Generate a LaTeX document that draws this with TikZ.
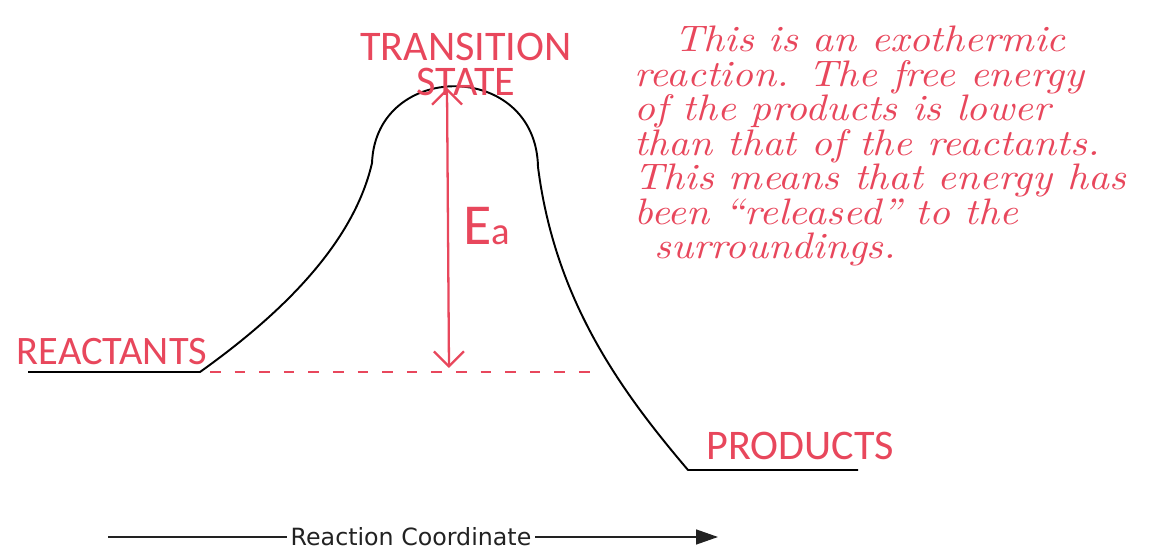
\documentclass[tikz,border=0pt]{standalone}
\usepackage{fontspec}
\setsansfont{DejaVu Sans}
\newfontfamily\handcaps{Carlito}
\newfontfamily\handnote{lmroman10-italic.otf}[FakeStretch=1.11]
\usetikzlibrary{arrows.meta,positioning}
\definecolor{inkred}{HTML}{E8475C}
\definecolor{axisgray}{HTML}{222222}

\begin{document}
\begin{tikzpicture}[
  x=0.02cm, y=-0.02cm,
  curve/.style={draw=black,line width=1.1pt,line join=round},
  lab/.style={text=inkred,font=\handcaps\fontsize{24}{24}\selectfont,inner sep=0pt},
  note/.style={text=inkred,font=\handnote\fontsize{21}{19.6}\selectfont,align=left,inner sep=0pt},
  gap/.style={draw=inkred,line width=0.9pt,dash pattern=on 6pt off 8pt},
  ea/.style={draw=inkred,line width=1.3pt,{Straight Barb[length=3mm]}-{Straight Barb[length=3mm]}},
  axis/.style={draw=axisgray,line width=0.8pt}
]
\useasboundingbox (0,0) rectangle (1150,560);

\coordinate (rL) at (28,372);
\coordinate (rR) at (200,372);
\coordinate (kL) at (372,163);
\coordinate (kR) at (538,167);
\coordinate (pL) at (688,470);
\coordinate (pR) at (858,470);
\draw[curve] (rL) -- (rR) .. controls (270,322) and (352,250) .. (kL)
  .. controls (376,60) and (536,60) .. (kR)
  .. controls (555,300) and (620,390) .. (pL) -- (pR);

\coordinate (gapL) at (210,372);
\coordinate (gapR) at (600,372);
\draw[gap] (gapL) -- (gapR);

\coordinate (peak) at (447,88);
\coordinate (base) at (449,368);
\draw[ea] (base) -- (peak);

\node[lab] (trans) at (466,47) {TRANSITION};
\node[lab] (state) [below=3.5pt of trans] {STATE};
\node[lab,font=\handcaps\fontsize{33}{33}\selectfont] (ealab) at (487,226) {E{\fontsize{22}{22}\selectfont a}};
\node[lab,font=\handcaps\fontsize{23}{23}\selectfont] (react) at (112,352) {REACTANTS};
\node[lab] (prod) at (800,446) {PRODUCTS};

\node[note,anchor=north west] (expl) at (634,26) {\hspace{0.8cm}This is an exothermic\\
reaction. The free energy\\
of the products is lower\\
than that of the reactants.\\
This means that energy has\\
been “released” to the\\
\hspace{0.4cm}surroundings.};

\coordinate (axL) at (108,537);
\coordinate (axR) at (718,537);
\node[font=\sffamily\fontsize{13.5}{13.5}\selectfont,text=axisgray,inner sep=2pt] (rc) at (411,537) {Reaction Coordinate};
\draw[axis] (axL) -- (rc.west);
\draw[axis,-{Triangle[length=4.4mm,width=3mm]}] (rc.east) -- (axR);
\end{tikzpicture}
\end{document}
